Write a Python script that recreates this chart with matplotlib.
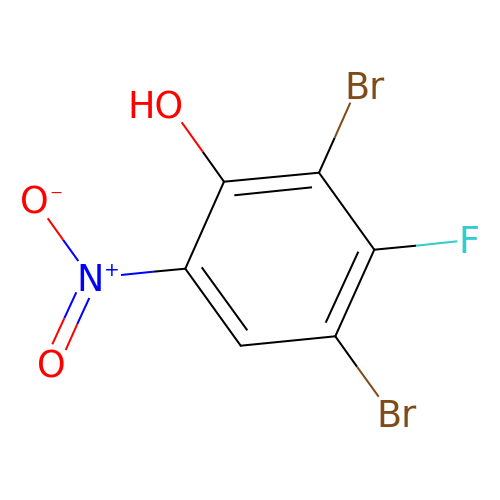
import matplotlib
matplotlib.use("Agg")
import matplotlib.pyplot as plt

BLACK = "#000000"
RED = "#FF0000"
BLUE = "#0000FF"
BROWN = "#7F4C19"
CYAN = "#33CCCC"

# ring carbons, pixel positions
ring_x = [224.0, 319.0, 374.3, 335.3, 240.7, 185.3]
ring_y = [181.7, 172.7, 249.7, 336.3, 345.7, 268.7]

# inner lines of the aromatic double bonds
inner_x1 = [234.3, 358.3, 247.3]
inner_y1 = [195.3, 251.7, 330.3]
inner_x2 = [312.0, 325.7, 201.7]
inner_y2 = [187.3, 322.7, 267.3]

# bonds to the substituents: start, colour change, end
bond_x = [[224.0, 202.7, 181.7], [319.0, 334.7, 350.3], [374.3, 416.0, 457.3],
          [335.3, 357.0, 378.7], [185.3, 153.3, 121.0], [78.3, 63.0, 47.7],
          [76.3, 64.3, 52.3], [89.3, 77.3, 65.7]]
bond_y = [[181.7, 151.7, 122.3], [172.7, 137.7, 102.7], [249.7, 245.7, 241.3],
          [336.3, 366.7, 396.7], [268.7, 271.7, 275.0], [261.0, 239.7, 218.3],
          [292.3, 318.3, 344.3], [298.0, 324.0, 350.0]]
bond_c1 = [BLACK, BLACK, BLACK, BLACK, BLACK, BLUE, BLUE, BLUE]
bond_c2 = [RED, BROWN, CYAN, BROWN, BLUE, RED, RED, RED]

labels = ["HO", "Br", "F", "Br", "N", "O", "O"]
label_x = [155.5, 365.0, 469.0, 397.0, 90.5, 34.5, 51.0]
label_y = [118.3, 99.3, 253.3, 426.7, 290.7, 214.0, 377.7]
label_c = [RED, BROWN, CYAN, BROWN, BLUE, RED, RED]

charges = ["+", "\u2212"]
charge_x = [111.7, 55.9]
charge_y = [271.0, 193.0]
charge_c = [BLUE, RED]
charge_fs = [13.5, 11.2]

LW = 1.45
FS = 26.3

fig = plt.figure(figsize=(5, 5), dpi=100, facecolor="white")
ax = fig.add_axes([0, 0, 1, 1])
ax.set_xlim(0, 500)
ax.set_ylim(500, 0)
ax.axis("off")

for i in range(len(ring_x)):
    j = (i + 1) % len(ring_x)
    ax.plot([ring_x[i], ring_x[j]], [ring_y[i], ring_y[j]], color=BLACK, lw=LW, solid_capstyle="round")

for x1, y1, x2, y2 in zip(inner_x1, inner_y1, inner_x2, inner_y2):
    ax.plot([x1, x2], [y1, y2], color=BLACK, lw=LW, solid_capstyle="butt")

for xs, ys, c1, c2 in zip(bond_x, bond_y, bond_c1, bond_c2):
    ax.plot(xs[:2], ys[:2], color=c1, lw=LW, solid_capstyle="butt")
    ax.plot(xs[1:], ys[1:], color=c2, lw=LW, solid_capstyle="butt")

for t, x, y, c in zip(labels, label_x, label_y, label_c):
    ax.text(x, y, t, color=c, fontsize=FS, ha="center", va="baseline", family="DejaVu Sans")

for t, x, y, c, fs in zip(charges, charge_x, charge_y, charge_c, charge_fs):
    ax.text(x, y, t, color=c, fontsize=fs, ha="center", va="center", family="DejaVu Sans")

fig.savefig("out.png", dpi=100, facecolor="white")
plt.close(fig)
